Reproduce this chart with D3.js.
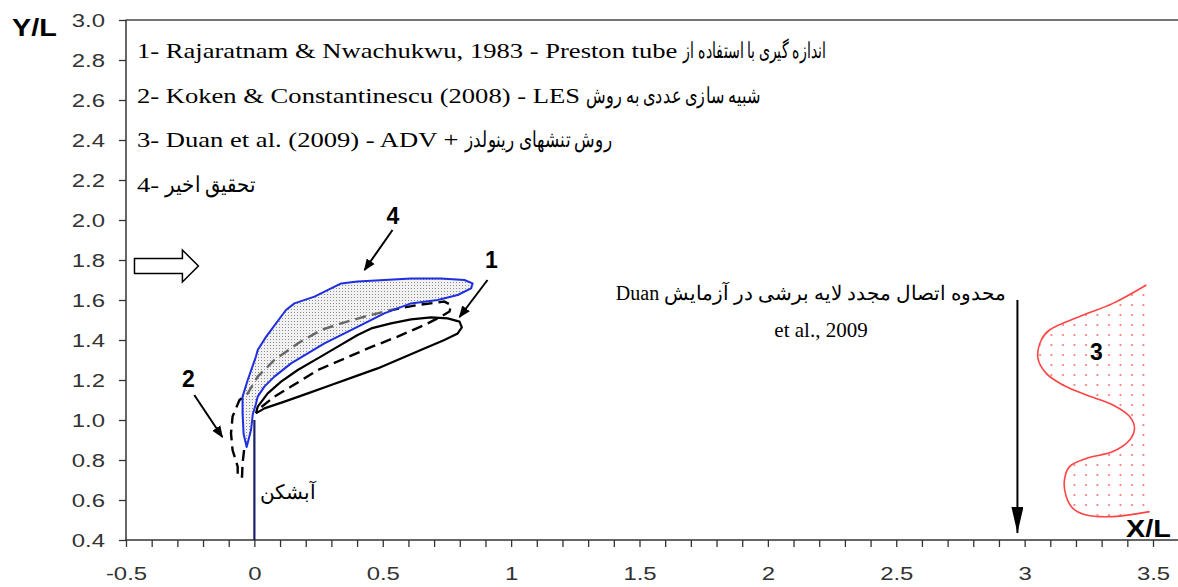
<!DOCTYPE html>
<html>
<head>
<meta charset="utf-8">
<script src="https://cdn.jsdelivr.net/npm/d3@7"></script>
<style>
body { margin: 0; background: #fff; }
</style>
</head>
<body>
<svg width="1178" height="587"></svg>
<script>
// tick labels
var xTicks = [-0.5, 0, 0.5, 1, 1.5, 2, 2.5, 3, 3.5];
var yTicks = [0.4, 0.6, 0.8, 1.0, 1.2, 1.4, 1.6, 1.8, 2.0, 2.2, 2.4, 2.6, 2.8, 3.0];

// legend: latin part, persian part
var legendLatin = [
  "1- Rajaratnam & Nwachukwu, 1983 - Preston tube",
  "2- Koken & Constantinescu (2008) - LES",
  "3- Duan et al. (2009) - ADV +",
  "4-"
];
var legendPersian = [
  "اندازه گیری با استفاده از",
  "شبیه سازی عددی به روش",
  "روش تنشهای رینولدز",
  "تحقیق اخیر"
];

// weir (آبشکن)
var weir = [[0, 0.4], [0, 1.0]];

// 1 - Rajaratnam & Nwachukwu (solid black loop)
var curve1 = [
  [0.006, 1.033], [0.013, 1.067], [0.052, 1.133], [0.104, 1.192], [0.169, 1.25],
  [0.247, 1.308], [0.325, 1.367], [0.402, 1.425], [0.455, 1.458], [0.532, 1.483],
  [0.610, 1.503], [0.688, 1.513], [0.753, 1.508], [0.799, 1.492], [0.808, 1.463],
  [0.792, 1.433], [0.740, 1.400], [0.662, 1.358], [0.571, 1.308], [0.480, 1.258],
  [0.390, 1.217], [0.299, 1.175], [0.208, 1.133], [0.117, 1.092], [0.039, 1.058],
  [0.006, 1.033]
];

// 2 - Koken & Constantinescu (dashed black)
var curve2 = [
  [-0.040, 0.850], [-0.046, 0.783], [-0.048, 0.717], [-0.065, 0.717], [-0.065, 0.767],
  [-0.085, 0.850], [-0.091, 0.933], [-0.085, 1.017], [-0.058, 1.100], [-0.026, 1.133],
  [0.013, 1.217], [0.078, 1.300], [0.169, 1.383], [0.260, 1.450], [0.338, 1.483],
  [0.429, 1.517], [0.532, 1.550], [0.636, 1.575], [0.740, 1.592], [0.766, 1.575],
  [0.760, 1.542], [0.727, 1.517], [0.662, 1.475], [0.558, 1.417], [0.442, 1.358],
  [0.338, 1.300], [0.247, 1.250], [0.143, 1.167], [0.078, 1.117], [0.013, 1.050]
];

// 3 - Duan et al. (red, dotted)
var curve3 = [
  [3.474, 1.675], [3.344, 1.583], [3.214, 1.517], [3.097, 1.450], [3.065, 1.400],
  [3.052, 1.308], [3.084, 1.233], [3.149, 1.175], [3.240, 1.125], [3.344, 1.075],
  [3.409, 1.017], [3.428, 0.958], [3.409, 0.900], [3.344, 0.842], [3.240, 0.808],
  [3.175, 0.767], [3.155, 0.700], [3.162, 0.617], [3.188, 0.558], [3.240, 0.525],
  [3.344, 0.517], [3.487, 0.542]
];
var curve3Edge = 3.474;

// 4 - present study (blue, shaded)
var curve4 = [
  [-0.030, 0.865], [-0.042, 0.930], [-0.046, 1.033], [-0.046, 1.117], [-0.026, 1.200],
  [0.006, 1.317], [0.013, 1.350], [0.046, 1.417], [0.123, 1.550], [0.156, 1.583],
  [0.234, 1.617], [0.338, 1.683], [0.402, 1.692], [0.506, 1.700], [0.610, 1.708],
  [0.727, 1.708], [0.818, 1.700], [0.850, 1.683], [0.844, 1.658], [0.792, 1.625],
  [0.714, 1.600], [0.610, 1.583], [0.506, 1.533], [0.429, 1.483], [0.351, 1.433],
  [0.273, 1.383], [0.208, 1.333], [0.143, 1.283], [0.078, 1.217], [0.039, 1.167],
  [0.013, 1.117], [0.006, 1.080], [-0.006, 1.030], [-0.013, 0.950]
];

// number labels and their arrows
var pointers = [
  {label: "4", at: [0.54, 2.02], from: [0.538, 1.95], to: [0.429, 1.75]},
  {label: "1", at: [0.923, 1.80], from: [0.908, 1.70], to: [0.799, 1.515]},
  {label: "2", at: [-0.257, 1.205], from: [-0.234, 1.125], to: [-0.125, 0.915]},
  {label: "3", at: [3.28, 1.34]}
];

var svg = d3.select("svg");

var x = d3.scaleLinear().domain([-0.5, 3.5]).range([126, 1153]);
var y = d3.scaleLinear().domain([0.4, 3.0]).range([540, 20]);

var sansFont = "Liberation Sans, Arial, sans-serif";
var serifFont = "Liberation Serif, Times New Roman, serif";
var sx = 1.33; // glyphs in the original are stretched horizontally

var line = d3.line().x(function(d) { return x(d[0]); }).y(function(d) { return y(d[1]); });

var defs = svg.append("defs");
var gp = defs.append("pattern").attr("id", "grayDots")
  .attr("width", 3).attr("height", 3).attr("patternUnits", "userSpaceOnUse");
gp.append("rect").attr("width", 3).attr("height", 3).attr("fill", "#f1f1f1");
gp.append("rect").attr("width", 1).attr("height", 1).attr("fill", "#8c8c8c");

var rp = defs.append("pattern").attr("id", "redDots")
  .attr("width", 11.5).attr("height", 10).attr("patternUnits", "userSpaceOnUse");
rp.append("circle").attr("cx", 5).attr("cy", 5).attr("r", 0.9).attr("fill", "#ff5a5a");

defs.append("clipPath").attr("id", "clip4")
  .append("path").attr("d", line.curve(d3.curveLinearClosed)(curve4));

defs.append("marker").attr("id", "head")
  .attr("viewBox", "0 0 10 10").attr("refX", 9).attr("refY", 5)
  .attr("markerWidth", 6).attr("markerHeight", 6).attr("markerUnits", "strokeWidth")
  .attr("orient", "auto")
  .append("path").attr("d", "M0,1 L10,5 L0,9 Z").attr("fill", "#000");

defs.append("marker").attr("id", "bigHead")
  .attr("viewBox", "0 0 12 26").attr("refX", 6).attr("refY", 26)
  .attr("markerWidth", 12).attr("markerHeight", 26).attr("markerUnits", "userSpaceOnUse")
  .attr("orient", "0")
  .append("path").attr("d", "M0,0 L6,26 L12,0 Z").attr("fill", "#000");

// axes
var yAxis = svg.append("g")
  .attr("transform", "translate(" + x(-0.5) + ",0)")
  .call(d3.axisLeft(y).tickValues(yTicks).tickSize(7).tickFormat(d3.format(".1f")));
yAxis.select(".domain").remove();
yAxis.selectAll("line").attr("stroke", "#333").attr("stroke-width", 1.3);
yAxis.selectAll("text")
  .attr("x", -21 / sx).attr("dy", "0.36em")
  .attr("transform", "scale(" + sx + ",1)")
  .attr("font-family", sansFont)
  .attr("font-size", 18).attr("fill", "#333");

var xMinor = svg.append("g")
  .attr("transform", "translate(0," + y(0.4) + ")")
  .call(d3.axisBottom(x).ticks(40).tickSize(7).tickFormat(""));
xMinor.select(".domain").remove();
xMinor.selectAll("line").attr("stroke", "#333").attr("stroke-width", 1.3);

var xAxis = svg.append("g")
  .attr("transform", "translate(0," + y(0.4) + ")")
  .call(d3.axisBottom(x).tickValues(xTicks).tickSize(0).tickFormat(function(d) { return String(d); }));
xAxis.select(".domain").remove();
xAxis.selectAll("text")
  .attr("y", 27).attr("dy", "0.71em")
  .attr("transform", "scale(" + sx + ",1)")
  .attr("font-family", sansFont)
  .attr("font-size", 18).attr("fill", "#333");

// frame lines
svg.append("line").attr("x1", x(-0.5) - 0.5).attr("x2", 1178)
  .attr("y1", y(0.4)).attr("y2", y(0.4)).attr("stroke", "#333").attr("stroke-width", 1.5);
svg.append("line").attr("x1", x(-0.5) - 0.5).attr("x2", 1178)
  .attr("y1", y(3.0)).attr("y2", y(3.0)).attr("stroke", "#444").attr("stroke-width", 1.5);
svg.append("line").attr("x1", x(-0.5)).attr("x2", x(-0.5))
  .attr("y1", y(3.0)).attr("y2", y(0.4)).attr("stroke", "#333").attr("stroke-width", 1.5);

svg.append("text").attr("transform", "translate(12,36) scale(1.25,1)")
  .attr("font-family", sansFont).attr("font-weight", "bold")
  .attr("font-size", 23).text("Y/L");
svg.append("text").attr("transform", "translate(1126,537) scale(1.2,1)")
  .attr("font-family", sansFont).attr("font-weight", "bold")
  .attr("font-size", 24).text("X/L");

// legend
var legendRight = [826, 760, 612, 255];
var legend = svg.append("g");
legendLatin.forEach(function(t, i) {
  var ly = 58 + i * 44.7;
  var lat = legend.append("text")
    .attr("transform", "translate(137," + ly + ") scale(" + sx + ",1)")
    .attr("font-family", serifFont).attr("font-size", 20)
    .text(t);
  var x0 = 137 + lat.node().getComputedTextLength() * sx + 6;
  legend.append("text")
    .attr("x", x0).attr("y", ly)
    .attr("font-family", serifFont).attr("font-size", 22)
    .attr("textLength", legendRight[i] - x0)
    .attr("lengthAdjust", "spacingAndGlyphs")
    .text(legendPersian[i]);
});

// 3 - red region
var region3 = curve3.concat([[curve3Edge, curve3[curve3.length - 1][1]], [curve3Edge, curve3[0][1]]]);
svg.append("path").attr("d", line.curve(d3.curveLinearClosed)(region3))
  .attr("fill", "url(#redDots)").attr("stroke", "none");
svg.append("path").attr("d", line.curve(d3.curveCatmullRom.alpha(0.5))(curve3))
  .attr("fill", "none").attr("stroke", "#ff4444").attr("stroke-width", 1.6);

// 1 - solid black loop
svg.append("path").attr("d", line.curve(d3.curveLinear)(curve1))
  .attr("fill", "none").attr("stroke", "#000").attr("stroke-width", 2.2)
  .attr("stroke-linejoin", "round");

// 2 - dashed black
svg.append("path").attr("d", line.curve(d3.curveLinear)(curve2))
  .attr("fill", "none").attr("stroke", "#000").attr("stroke-width", 2.4)
  .attr("stroke-dasharray", "11,6");

// 4 - blue shaded region (dashed curve 2 shows grey through it)
svg.append("path").attr("d", line.curve(d3.curveLinearClosed)(curve4))
  .attr("fill", "url(#grayDots)").attr("stroke", "none");
svg.append("path").attr("d", line.curve(d3.curveLinear)(curve2))
  .attr("clip-path", "url(#clip4)")
  .attr("fill", "none").attr("stroke", "#666").attr("stroke-width", 2.4)
  .attr("stroke-dasharray", "11,6");
svg.append("path").attr("d", line.curve(d3.curveLinearClosed)(curve4))
  .attr("fill", "none")
  .attr("stroke", "#1f2fe0").attr("stroke-width", 2).attr("stroke-linejoin", "round");

// weir
svg.append("path").attr("d", line.curve(d3.curveLinear)(weir))
  .attr("stroke", "#1a1f66").attr("stroke-width", 2.2);
svg.append("text").attr("x", x(0.13)).attr("y", y(0.64) + 7)
  .attr("text-anchor", "middle")
  .attr("font-family", serifFont)
  .attr("font-size", 20).text("آبشکن");

// pointers
pointers.forEach(function(p) {
  svg.append("text").attr("x", x(p.at[0])).attr("y", y(p.at[1]) + 8)
    .attr("text-anchor", "middle")
    .attr("font-family", sansFont).attr("font-weight", "bold")
    .attr("font-size", 23).text(p.label);
  if (p.from) {
    svg.append("line")
      .attr("x1", x(p.from[0])).attr("y1", y(p.from[1]))
      .attr("x2", x(p.to[0])).attr("y2", y(p.to[1]))
      .attr("stroke", "#000").attr("stroke-width", 2)
      .attr("marker-end", "url(#head)");
  }
});

// flow direction arrow
var fy = y(1.77);
var fx0 = x(-0.467), fx1 = x(-0.218);
svg.append("path")
  .attr("d", "M" + fx0 + "," + (fy - 7.5) + " H" + (fx1 - 16) + " V" + (fy - 16) +
    " L" + fx1 + "," + fy + " L" + (fx1 - 16) + "," + (fy + 16) + " V" + (fy + 7.5) +
    " H" + fx0 + " Z")
  .attr("fill", "#fff").attr("stroke", "#000").attr("stroke-width", 1.5);

// reattachment annotation
svg.append("line")
  .attr("x1", x(2.972)).attr("x2", x(2.972))
  .attr("y1", y(1.6)).attr("y2", y(0.435))
  .attr("stroke", "#000").attr("stroke-width", 2)
  .attr("marker-end", "url(#bigHead)");
svg.append("text").attr("x", 811).attr("y", 300)
  .attr("text-anchor", "middle").attr("direction", "rtl")
  .attr("font-family", serifFont)
  .attr("font-size", 20).text("محدوه اتصال مجدد لایه برشی در آزمایش  Duan");
svg.append("text").attr("x", 821).attr("y", 337)
  .attr("text-anchor", "middle")
  .attr("font-family", serifFont)
  .attr("font-size", 21).text("et al., 2009");
</script>
</body>
</html>
